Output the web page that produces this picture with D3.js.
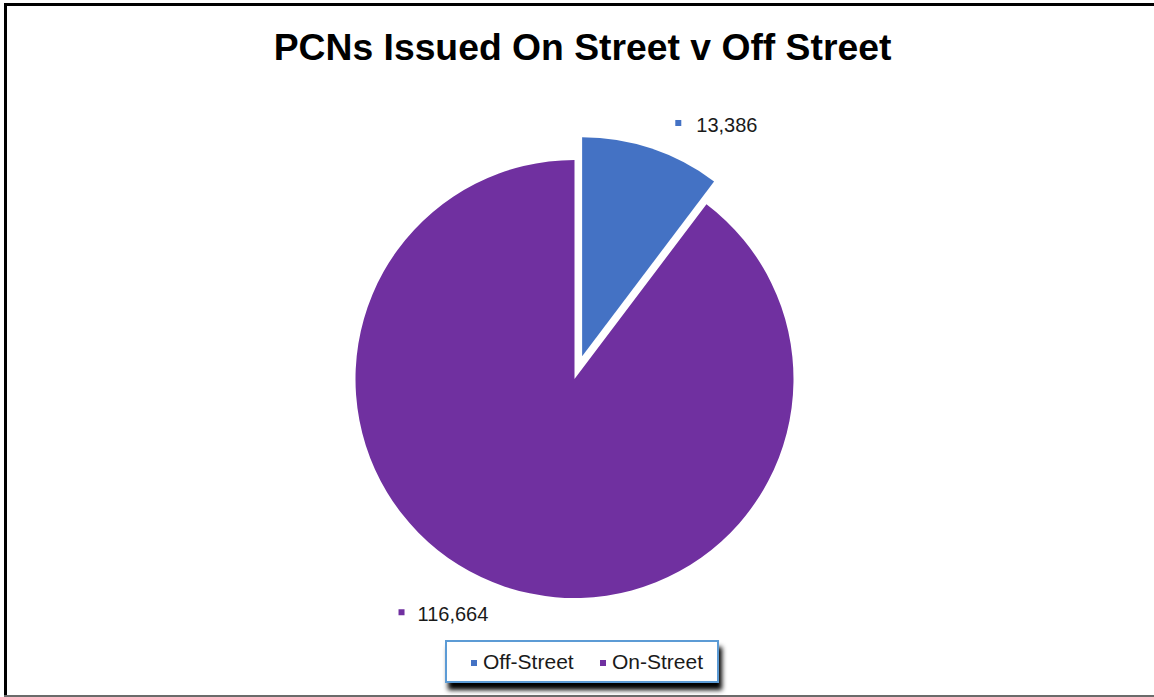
<!DOCTYPE html>
<html>
<head>
<meta charset="utf-8">
<script src="https://cdn.jsdelivr.net/npm/d3@7"></script>
<style>
  html, body { margin: 0; padding: 0; background: #fff; }
  svg { display: block; font-family: "Liberation Sans", Arial, sans-serif; }
</style>
</head>
<body>
<svg id="chart" width="1154" height="697"></svg>
<script>
// PCN counts by location
const categories = ["Off-Street", "On-Street"];
const values = [13386, 116664];
const colors = ["#4472C4", "#7030A0"];
const chartTitle = "PCNs Issued On Street v Off Street";

const width = 1154, height = 697;
const svg = d3.select("#chart");

// frame around the chart area
svg.append("line").attr("x1", 4).attr("x2", width).attr("y1", 4.5).attr("y2", 4.5)
  .attr("stroke", "#000").attr("stroke-width", 3);
svg.append("line").attr("x1", 5.5).attr("x2", 5.5).attr("y1", 3).attr("y2", height)
  .attr("stroke", "#000").attr("stroke-width", 3);
svg.append("line").attr("x1", 4).attr("x2", width).attr("y1", 696).attr("y2", 696)
  .attr("stroke", "#6b6b6b").attr("stroke-width", 2);

// title
svg.append("text")
  .attr("x", 582.5).attr("y", 60)
  .attr("text-anchor", "middle")
  .attr("font-weight", "bold")
  .attr("font-size", 37.3)
  .attr("fill", "#000")
  .text(chartTitle);

// pie
const cx = 574.5, cy = 379, radius = 219, explode = 24;
const data = categories.map((c, i) => ({ name: c, value: values[i], color: colors[i] }));
const pie = d3.pie().sort(null).value(d => d.value);
const arcs = pie(data);
const arc = d3.arc().innerRadius(0).outerRadius(radius);
const labelArc = d3.arc().innerRadius(246).outerRadius(246);

const g = svg.append("g").attr("transform", `translate(${cx},${cy})`);

function shift(a) {
  if (a.index !== 0) return [0, 0];
  const mid = (a.startAngle + a.endAngle) / 2;
  return [Math.sin(mid) * explode, -Math.cos(mid) * explode];
}

g.selectAll("path.slice").data(arcs).join("path")
  .attr("class", "slice")
  .attr("d", arc)
  .attr("transform", d => `translate(${shift(d)})`)
  .attr("fill", d => d.data.color);

// data labels with colour markers
const fmt = d3.format(",");
arcs.forEach(a => {
  const [sx, sy] = shift(a);
  const [lx, ly] = labelArc.centroid(a);
  const px = lx + sx, py = ly + sy;
  const right = lx >= 0;
  const lg = g.append("g");
  const t = lg.append("text")
    .attr("font-size", 20)
    .attr("fill", "#1a1a1a")
    .attr("y", py + 9)
    .text(fmt(a.data.value));
  if (right) {
    lg.append("rect").attr("x", px + 15).attr("y", py - 3).attr("width", 6).attr("height", 6)
      .attr("fill", a.data.color);
    t.attr("x", px + 36).attr("text-anchor", "start");
  } else {
    const w = t.node().getComputedTextLength();
    t.attr("x", px - 8).attr("text-anchor", "end");
    lg.append("rect").attr("x", px - 8 - w - 19).attr("y", py - 3).attr("width", 6).attr("height", 6)
      .attr("fill", a.data.color);
  }
});

// legend
const defs = svg.append("defs");
const f = defs.append("filter").attr("id", "shadow").attr("x", "-10%").attr("y", "-30%")
  .attr("width", "120%").attr("height", "180%");
f.append("feGaussianBlur").attr("in", "SourceAlpha").attr("stdDeviation", 2.5);
f.append("feOffset").attr("dx", 3).attr("dy", 7).attr("result", "b");
f.append("feComponentTransfer").append("feFuncA").attr("type", "linear").attr("slope", 1);
const m = f.append("feMerge");
m.append("feMergeNode");
m.append("feMergeNode").attr("in", "SourceGraphic");

const legend = svg.append("g").attr("transform", "translate(446,641)");
legend.append("rect").attr("width", 272).attr("height", 41)
  .attr("fill", "#fff").attr("stroke", "#5B9BD5").attr("stroke-width", 2)
  .attr("filter", "url(#shadow)");
const itemX = [25, 154];
data.forEach((d, i) => {
  legend.append("rect").attr("x", itemX[i]).attr("y", 19).attr("width", 6).attr("height", 6)
    .attr("fill", d.color);
  legend.append("text").attr("x", itemX[i] + 12).attr("y", 28)
    .attr("font-size", 21).attr("fill", "#1a1a1a").text(d.name);
});
</script>
</body>
</html>
